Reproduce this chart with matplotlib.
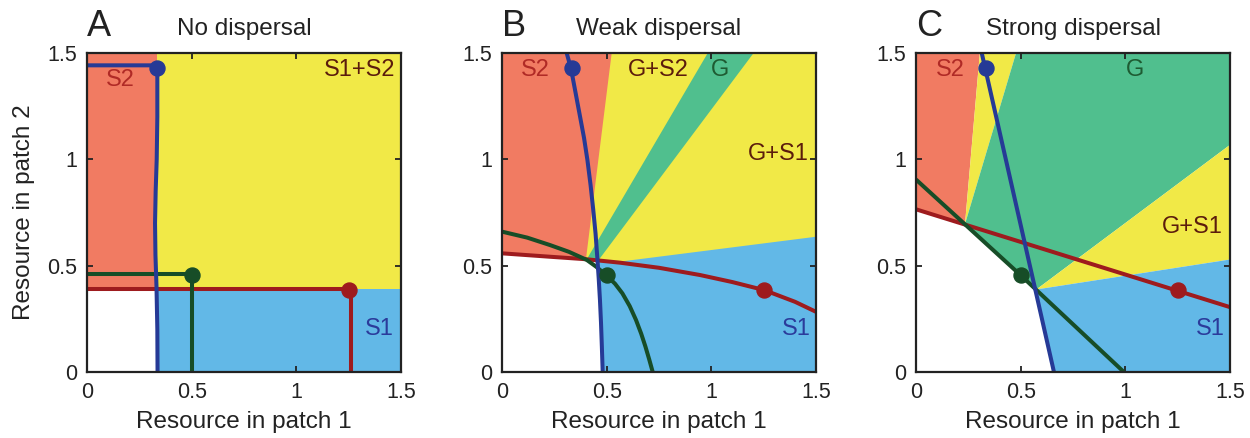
import numpy as np
import matplotlib.pyplot as plt

plt.rcParams['font.family'] = ['Liberation Sans', 'DejaVu Sans']

# colours
FILL_S2 = '#f17b62'
FILL_MIX = '#f1e947'
FILL_S1 = '#62b8e7'
FILL_G = '#50bf8e'
LINE_BLUE = '#263a96'
LINE_GREEN = '#174d27'
LINE_RED = '#9e1b1e'
TXT_RED = '#b02a26'
TXT_BROWN = '#5b1c0c'
TXT_BLUE = '#2b3b9b'
TXT_GREEN = '#1e5b32'

ticks = [0, 0.5, 1, 1.5]
tick_labels = ['0', '0.5', '1', '1.5']
panel_letters = ['A', 'B', 'C']
panel_titles = ['No dispersal', 'Weak dispersal', 'Strong dispersal']

# equilibrium points (same in every panel): blue, green, red
dot_x = [0.334, 0.500, 1.253]
dot_y = [1.428, 0.456, 0.385]

# ---- panel A: no dispersal ----
a_s2_x = [0, 0.336, 0.336, 0]
a_s2_y = [0.39, 0.39, 1.5, 1.5]
a_mix_x = [0.336, 1.5, 1.5, 0.336]
a_mix_y = [0.39, 0.39, 1.5, 1.5]
a_s1_x = [0.336, 1.5, 1.5, 0.336]
a_s1_y = [0, 0, 0.39, 0.39]

a_blue_x = [0, 0.336, 0.336, 0.333, 0.328, 0.325, 0.327, 0.332, 0.336, 0.337]
a_blue_y = [1.442, 1.442, 1.2, 1.0, 0.85, 0.7, 0.55, 0.4, 0.2, 0]
a_green_x = [0, 0.501, 0.501]
a_green_y = [0.459, 0.459, 0]
a_red_x = [0, 1.261, 1.261]
a_red_y = [0.391, 0.391, 0]

# ---- panel B: weak dispersal ----
b_s2_x = [0, 0.524, 0.402, 0]
b_s2_y = [1.5, 1.5, 0.538, 0.558]
b_g_x = [0.408, 0.983, 1.202, 0.462]
b_g_y = [0.535, 1.5, 1.5, 0.527]
b_s1_x = [0.481, 0.468, 0.455, 0.54, 1.5, 1.5]
b_s1_y = [0, 0.338, 0.527, 0.516, 0.636, 0]
b_white_x = [0, 0, 0.229, 0.405, 0.456, 0.468, 0.481]
b_white_y = [0, 0.558, 0.542, 0.53, 0.527, 0.338, 0]

b_blue_x = [0.309, 0.330, 0.352, 0.373, 0.392, 0.408, 0.423, 0.436, 0.447,
            0.455, 0.462, 0.468, 0.473, 0.477, 0.481]
b_blue_y = [1.5, 1.425, 1.31, 1.20, 1.10, 0.997, 0.88, 0.762, 0.65,
            0.542, 0.44, 0.338, 0.23, 0.12, 0]
b_green_x = [0, 0.12, 0.229, 0.32, 0.405, 0.45, 0.497, 0.54, 0.575, 0.61,
             0.64, 0.665, 0.685, 0.703, 0.72]
b_green_y = [0.66, 0.632, 0.597, 0.565, 0.527, 0.495, 0.456, 0.415, 0.37, 0.31,
             0.245, 0.18, 0.12, 0.06, 0]
b_red_x = [0, 0.229, 0.405, 0.564, 0.75, 0.946, 1.1, 1.253, 1.4, 1.5]
b_red_y = [0.558, 0.542, 0.53, 0.514, 0.49, 0.456, 0.423, 0.385, 0.33, 0.283]

# ---- panel C: strong dispersal ----
c_s2_x = [0, 0.234, 0.305, 0]
c_s2_y = [0.765, 0.695, 1.5, 1.5]
c_mix2_x = [0.234, 0.305, 0.478]
c_mix2_y = [0.695, 1.5, 1.5]
c_g_x = [0.234, 0.478, 1.5, 1.5, 0.575]
c_g_y = [0.695, 1.5, 1.5, 1.068, 0.388]
c_mix1_x = [0.575, 1.5, 1.5]
c_mix1_y = [0.388, 1.068, 0.529]
c_s1_x = [0.575, 1.5, 1.5, 0.659]
c_s1_y = [0.388, 0.529, 0, 0]

c_blue_x = [0.314, 0.659]
c_blue_y = [1.5, 0]
c_green_x = [0, 0.5, 0.993]
c_green_y = [0.905, 0.455, 0]
c_red_x = [0, 1.5]
c_red_y = [0.765, 0.305]

fig = plt.figure(figsize=(12.5, 4.38), dpi=100)
lefts = [87 / 1250, 502 / 1250, 916 / 1250]
axes = [fig.add_axes([l, 66 / 438, 314 / 1250, 319 / 438]) for l in lefts]

# fills per panel: (x, y, colour) in drawing order
fills = [
    [(a_s2_x, a_s2_y, FILL_S2), (a_mix_x, a_mix_y, FILL_MIX), (a_s1_x, a_s1_y, FILL_S1)],
    [([0, 1.5, 1.5, 0], [0, 0, 1.5, 1.5], FILL_MIX), (b_s2_x, b_s2_y, FILL_S2),
     (b_g_x, b_g_y, FILL_G), (b_s1_x, b_s1_y, FILL_S1), (b_white_x, b_white_y, 'white')],
    [(c_s2_x, c_s2_y, FILL_S2), (c_mix2_x, c_mix2_y, FILL_MIX), (c_g_x, c_g_y, FILL_G),
     (c_mix1_x, c_mix1_y, FILL_MIX), (c_s1_x, c_s1_y, FILL_S1)],
]
curves = [
    [(a_red_x, a_red_y), (a_green_x, a_green_y), (a_blue_x, a_blue_y)],
    [(b_red_x, b_red_y), (b_green_x, b_green_y), (b_blue_x, b_blue_y)],
    [(c_red_x, c_red_y), (c_green_x, c_green_y), (c_blue_x, c_blue_y)],
]
line_cols = [LINE_RED, LINE_GREEN, LINE_BLUE]
dot_cols = [LINE_BLUE, LINE_GREEN, LINE_RED]

labels = [
    [('S2', 0.16, 1.374, TXT_RED), ('S1+S2', 1.303, 1.42, TXT_BROWN), ('S1', 1.397, 0.204, TXT_BLUE)],
    [('S2', 0.161, 1.418, TXT_RED), ('G+S2', 0.747, 1.418, TXT_BROWN), ('G', 1.042, 1.418, TXT_GREEN),
     ('G+S1', 1.32, 1.026, TXT_BROWN), ('S1', 1.405, 0.204, TXT_BLUE)],
    [('S2', 0.162, 1.418, TXT_RED), ('G', 1.048, 1.418, TXT_GREEN),
     ('G+S1', 1.32, 0.683, TXT_BROWN), ('S1', 1.407, 0.204, TXT_BLUE)],
]

for i, ax in enumerate(axes):
    for xs, ys, col in fills[i]:
        ax.fill(xs, ys, color=col, lw=0, zorder=1)
    for (xs, ys), col in zip(curves[i], line_cols):
        ax.plot(xs, ys, color=col, lw=2.9, solid_capstyle='butt',
                solid_joinstyle='round', zorder=3)
    for x, y, col in zip(dot_x, dot_y, dot_cols):
        ax.plot(x, y, 'o', color=col, ms=10.8, zorder=4)
    for txt, x, y, col in labels[i]:
        ax.text(x, y, txt, color=col, fontsize=17, ha='center', va='center', zorder=5)

    ax.set_xlim(0, 1.5)
    ax.set_ylim(0, 1.5)
    ax.set_xticks(ticks)
    ax.set_xticklabels(tick_labels)
    ax.set_yticks(ticks)
    ax.set_yticklabels(tick_labels)
    ax.tick_params(direction='in', top=True, right=True, length=4, width=1.3,
                   labelsize=15.5, pad=7, color='#222222', labelcolor='#222222')
    for sp in ax.spines.values():
        sp.set_linewidth(1.6)
        sp.set_color('#222222')
        sp.set_zorder(6)
    ax.set_xlabel('Resource in patch 1', fontsize=17.5, labelpad=6, color='#222222')
    ax.text(0, 1.053, panel_letters[i], transform=ax.transAxes, fontsize=26,
            ha='left', va='baseline', color='#222222')
    ax.text(0.5, 1.056, panel_titles[i], transform=ax.transAxes, fontsize=17.5,
            ha='center', va='baseline', color='#222222')

axes[0].set_ylabel('Resource in patch 2', fontsize=17.5, labelpad=9, color='#222222')

fig.savefig('out.png', dpi=100)
